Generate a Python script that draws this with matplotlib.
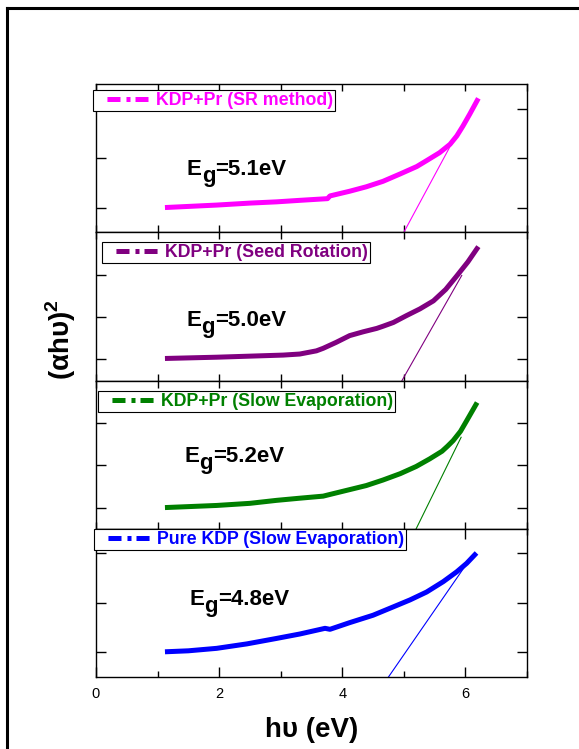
import matplotlib
matplotlib.use('Agg')
import matplotlib.pyplot as plt
from matplotlib.lines import Line2D
from matplotlib.ticker import MultipleLocator, FixedLocator
from matplotlib.transforms import offset_copy

plt.rcParams['font.family'] = ['Liberation Sans', 'DejaVu Sans']
plt.rcParams['mathtext.fontset'] = 'custom'
plt.rcParams['mathtext.rm'] = 'Liberation Sans'
plt.rcParams['mathtext.bf'] = 'Liberation Sans:bold'
plt.rcParams['lines.scale_dashes'] = False

# data (arbitrary y units per panel)
x1 = [1.12, 1.96, 2.50, 2.93, 3.30, 3.76, 3.80, 4.12, 4.39, 4.66, 4.94, 5.21, 5.37, 5.58, 5.66, 5.75, 5.86, 5.96, 6.07, 6.21]
y1 = [0.00, 0.05, 0.09, 0.115, 0.145, 0.18, 0.235, 0.33, 0.42, 0.53, 0.68, 0.83, 0.95, 1.11, 1.19, 1.28, 1.45, 1.65, 1.89, 2.21]
tx1 = [5.00, 5.80]
ty1 = [-0.5, 1.35]

x2 = [1.12, 1.96, 3.04, 3.31, 3.58, 3.69, 3.90, 4.12, 4.34, 4.56, 4.66, 4.83, 5.04, 5.26, 5.48, 5.68, 5.86, 6.04, 6.21]
y2 = [0.02, 0.05, 0.10, 0.125, 0.20, 0.26, 0.40, 0.56, 0.65, 0.73, 0.78, 0.87, 1.03, 1.19, 1.38, 1.65, 1.97, 2.30, 2.66]
tx2 = [4.97, 5.94]
ty2 = [-0.5, 1.98]

x3 = [1.12, 1.96, 2.50, 2.93, 3.30, 3.69, 3.80, 4.39, 4.66, 4.94, 5.20, 5.42, 5.62, 5.71, 5.80, 5.92, 6.02, 6.19]
y3 = [0.00, 0.05, 0.10, 0.17, 0.22, 0.27, 0.31, 0.52, 0.65, 0.80, 0.97, 1.15, 1.33, 1.45, 1.58, 1.80, 2.05, 2.48]
tx3 = [5.20, 5.93]
ty3 = [-0.5, 1.66]

x4 = [1.12, 1.50, 1.96, 2.45, 2.93, 3.31, 3.72, 3.80, 4.12, 4.50, 4.83, 5.10, 5.37, 5.64, 5.86, 6.02, 6.18]
y4 = [0.01, 0.03, 0.08, 0.17, 0.28, 0.37, 0.485, 0.465, 0.60, 0.75, 0.92, 1.06, 1.22, 1.43, 1.63, 1.80, 2.01]
tx4 = [4.75, 6.02]
ty4 = [-0.5, 1.79]

labels = ['KDP+Pr (SR method)', 'KDP+Pr (Seed Rotation)',
          'KDP+Pr (Slow Evaporation)', 'Pure KDP (Slow Evaporation)']
gaps = ['5.1', '5.0', '5.2', '4.8']
colors = ['#ff00ff', '#800080', '#008000', '#0000ff']
ylims = [(-0.5, 2.5), (-0.5, 3.0), (-0.5, 3.0), (-0.5, 2.5)]

curves = [(x1, y1, tx1, ty1), (x2, y2, tx2, ty2), (x3, y3, tx3, ty3), (x4, y4, tx4, ty4)]

# layout (pixels of the 579x749 picture)
W, H = 579, 749
left_px, width_px = 96, 431
top_px, panel_px = 84, 148.25
legend_pos = [(-0.007, 0.959), (0.014, 0.934), (0.005, 0.93), (-0.004, 1.0)]
eg_pos = [(0.211, 0.389), (0.210, 0.365), (0.205, 0.45), (0.216, 0.484)]

fig = plt.figure(figsize=(W / 100, H / 100), dpi=100)

# dash-dot pattern for legend samples: gap, dash, gap, dot, gap, dash
dash = (29.6, (9.4, 4.3, 2.9, 3.6, 9.4, 8.6))

axes = []
for i in range(4):
    bottom = top_px + (i + 1) * panel_px
    ax = fig.add_axes([left_px / W, (H - bottom) / H, width_px / W, panel_px / H])
    axes.append(ax)
    x, y, tx, ty = curves[i]
    c = colors[i]
    ax.plot(x, y, color=c, lw=3.6, solid_capstyle='butt', solid_joinstyle='round')
    ax.plot(tx, ty, color=c, lw=0.8)

    ax.set_xlim(0, 7)
    ax.set_ylim(*ylims[i])
    ax.yaxis.set_major_locator(FixedLocator([0, 1, 2]))
    for s in ax.spines.values():
        s.set_linewidth(1.0)

    ax.tick_params(which='both', direction='in', top=True, right=True,
                   labelleft=False, width=1.0)
    ax.tick_params(axis='y', length=7)
    if i < 3:
        ax.xaxis.set_major_locator(MultipleLocator(1))
        ax.tick_params(axis='x', length=5, labelbottom=False)
    else:
        ax.xaxis.set_major_locator(MultipleLocator(2))
        ax.xaxis.set_minor_locator(MultipleLocator(1))
        ax.tick_params(axis='x', which='major', length=7, labelsize=10.5, pad=7)
        ax.tick_params(axis='x', which='minor', length=4)
        ax.set_xlabel('hυ (eV)', fontsize=20, fontweight='bold', labelpad=12)

    h = Line2D([], [], color=c, lw=3.6, linestyle=dash)
    leg = ax.legend(handles=[h], labels=[labels[i]], loc='upper left',
                    bbox_to_anchor=legend_pos[i], borderaxespad=0,
                    fancybox=False, edgecolor='black', framealpha=1,
                    borderpad=0.12, handlelength=3.0, handletextpad=0.4,
                    prop={'weight': 'bold', 'size': 12.8}, labelcolor=c)
    leg.get_frame().set_linewidth(0.8)

    ex, ey = eg_pos[i]
    ax.text(ex, ey, 'E', transform=ax.transAxes, fontsize=16,
            fontweight='bold', va='baseline')
    ax.text(ex, ey, 'g', fontsize=16, fontweight='bold', va='baseline',
            transform=offset_copy(ax.transAxes, fig=fig, x=14.8, y=-7, units='dots'))
    ax.text(ex, ey, '=' + gaps[i] + 'eV', fontsize=16, fontweight='bold', va='baseline',
            transform=offset_copy(ax.transAxes, fig=fig, x=28.6, y=0, units='dots'))

fig.text(61 / W, 1 - 340 / H, '(αhυ)$^{\\mathbf{2}}$', rotation=90,
         fontsize=20, fontweight='bold', ha='center', va='center')

# outer frame (only left and top edges are inside the picture)
fig.add_artist(Line2D([7.5 / W, 7.5 / W], [-0.1, 1 - 7.5 / H], transform=fig.transFigure,
                      color='black', lw=2.2, solid_capstyle='projecting'))
fig.add_artist(Line2D([7.5 / W, 1.1], [1 - 7.5 / H, 1 - 7.5 / H], transform=fig.transFigure,
                      color='black', lw=2.2, solid_capstyle='projecting'))

fig.savefig('out.png', dpi=100)
